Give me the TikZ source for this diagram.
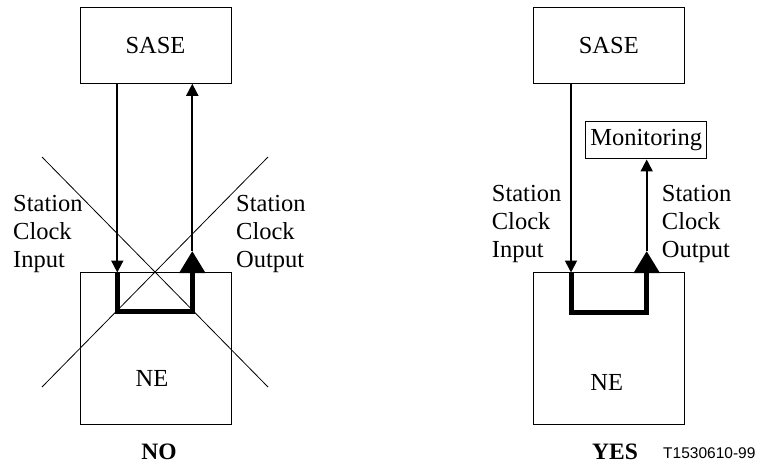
\documentclass[tikz,border=0pt]{standalone}
\usepackage{fontspec}
\setmainfont{Liberation Serif}
\setsansfont{Liberation Sans}
\usetikzlibrary{arrows.meta}

\tikzset{
  unit/.style={draw, line width=1pt, inner sep=0pt},
  sig/.style={line width=1.8pt, -{Triangle[length=12pt,width=12pt]}},
  thickloop/.style={line width=5pt, -{Triangle[length=22pt,width=25pt]}},
  cross/.style={line width=0.8pt},
  lbl/.style={inner sep=0pt, align=left, anchor=west},
  verdict/.style={inner sep=0pt, font=\fontsize{23.5}{28}\selectfont\bfseries},
}

\begin{document}
\begin{tikzpicture}[x=1pt,y=-1pt,font=\fontsize{24.5}{28}\selectfont]
  \useasboundingbox (0,0) rectangle (757,464);
  % NO
  \node[unit, minimum width=151pt, minimum height=75.5pt] (saseL) at (155.5,45.5) {SASE};
  \node[unit, minimum width=151pt, minimum height=151.5pt] (neL) at (155.5,348.5) {};
  \node (neLtxt) at (152,378) {NE};
  \coordinate (inL) at (117.3,272.5);
  \coordinate (outL) at (192.3,251);
  \draw[sig] (saseL.south -| inL) -- (inL);
  \draw[sig] (outL) -- (saseL.south -| outL);
  \draw[thickloop] (inL) -- ++(0,38.5) -| (outL);
  \draw[cross] (42,157) -- (268,387);
  \draw[cross] (42,387) -- (268,157);
  \node[lbl] (inLtxt) at (13,234) {Station\\Clock\\Input};
  \node[lbl] (outLtxt) at (236,234) {Station\\Clock\\Output};
  \node[verdict] (no) at (159,452) {NO};
  % YES
  \node[unit, minimum width=151pt, minimum height=75.5pt] (saseR) at (608.8,45.5) {SASE};
  \node[unit, minimum width=151pt, minimum height=151.5pt] (neR) at (608.8,348.5) {};
  \node (neRtxt) at (606.7,382) {NE};
  \node[unit, minimum width=121pt, minimum height=37.3pt] (mon) at (646.2,140.3) {Monitoring};
  \coordinate (inR) at (571,272.5);
  \coordinate (outR) at (646.7,251);
  \draw[sig] (saseR.south -| inR) -- (inR);
  \draw[sig] (outR) -- (mon.south -| outR);
  \draw[thickloop] (inR) -- ++(0,39.5) -| (outR);
  \node[lbl] (inRtxt) at (491.7,224) {Station\\Clock\\Input};
  \node[lbl] (outRtxt) at (661.7,224) {Station\\Clock\\Output};
  \node[verdict] (yes) at (615,452) {YES};
  \node[font=\fontsize{15.5}{18}\sffamily, inner sep=0pt, anchor=west] (fig) at (663,453) {T1530610-99};
\end{tikzpicture}
\end{document}
